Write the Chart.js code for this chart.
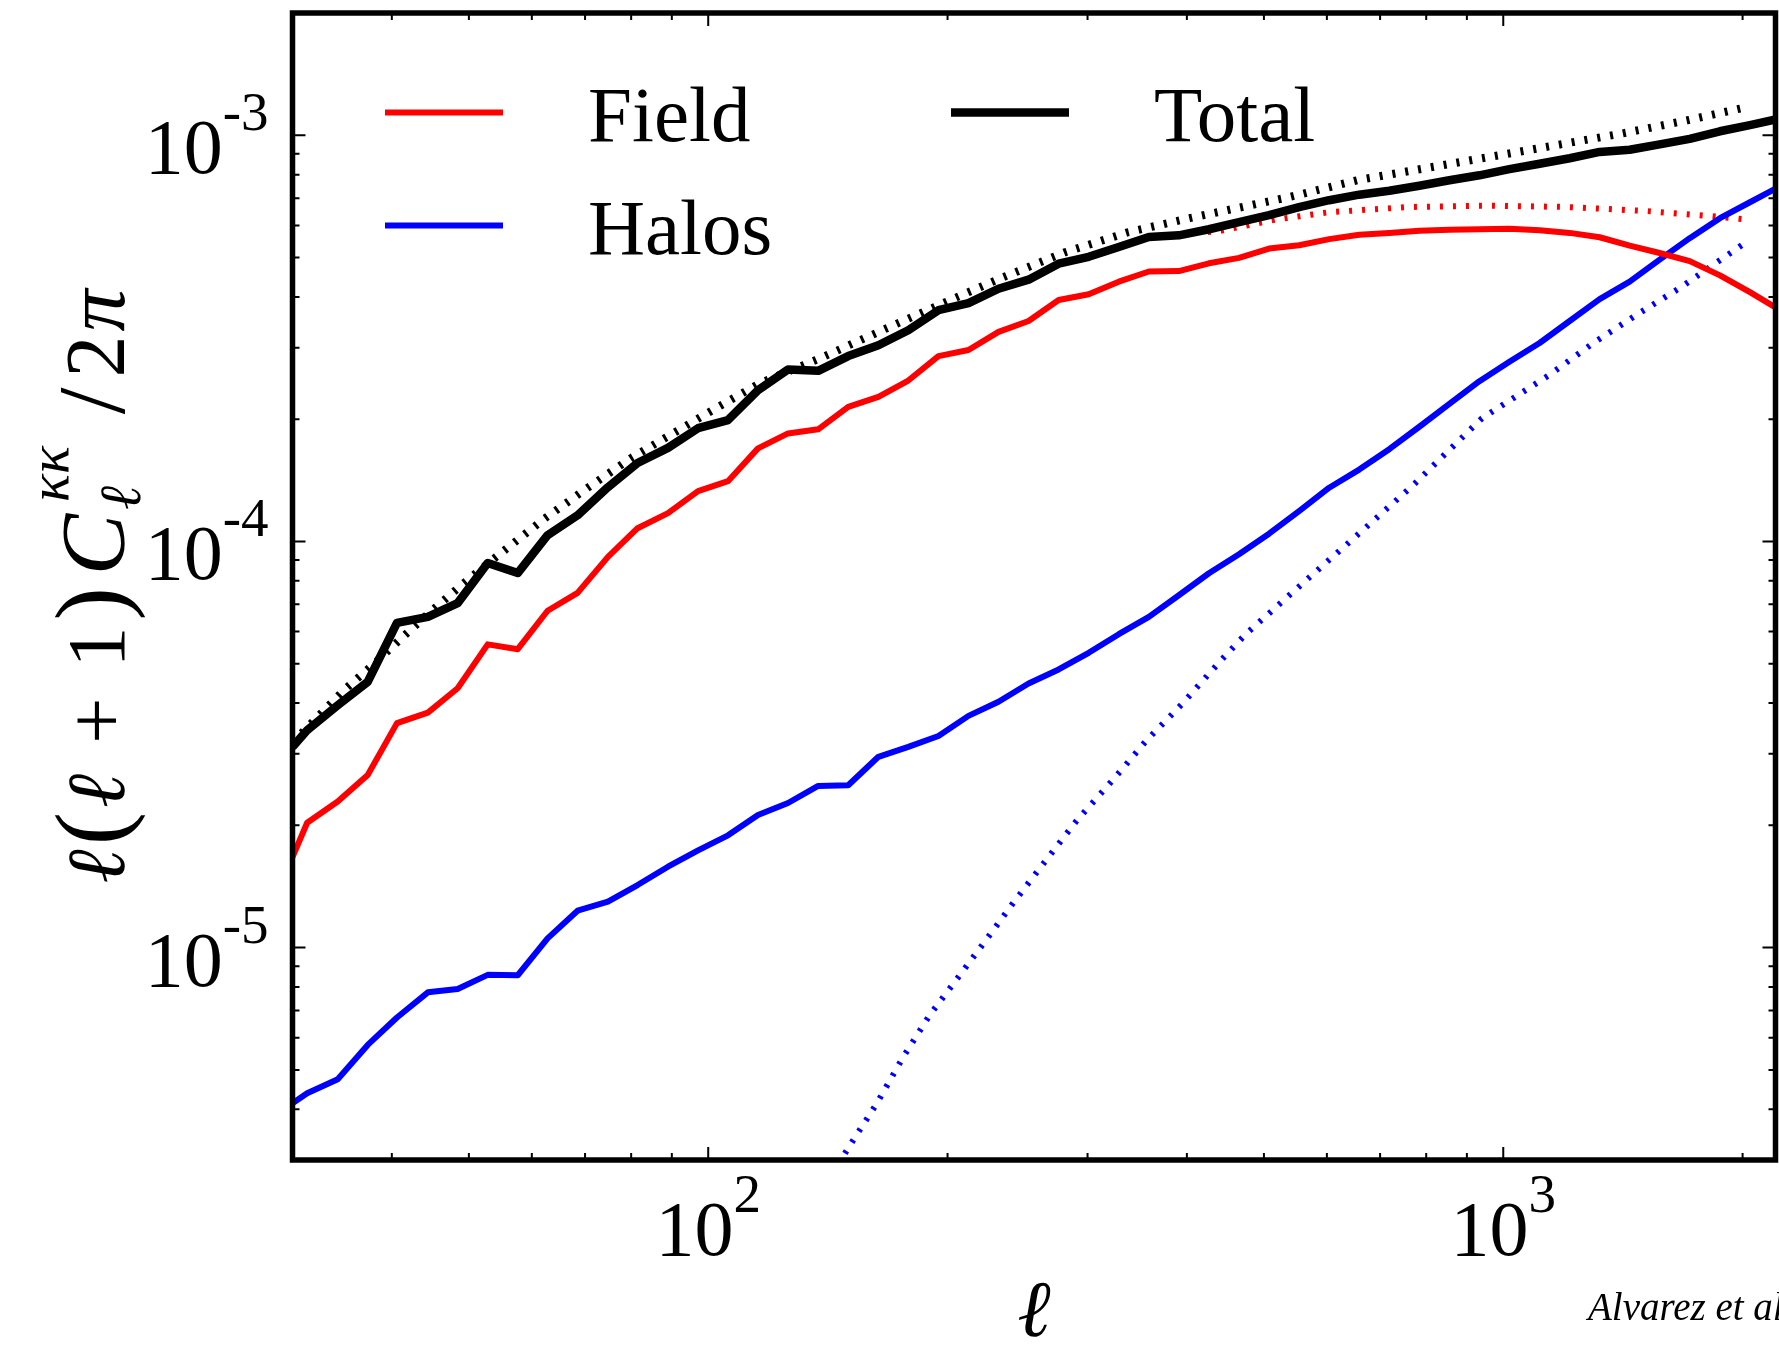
<!DOCTYPE html>
<html>
<head>
<meta charset="utf-8">
<script src="https://cdn.jsdelivr.net/npm/chart.js@4.4.0/dist/chart.umd.min.js"></script>
<style>
html, body { margin: 0; padding: 0; background: #ffffff; }
canvas { display: block; }
</style>
</head>
<body>
<canvas id="c" width="1779" height="1347"></canvas>
<script>
// ---------------- data ----------------
const ellBins = [30, 31.3, 34.2, 37.3, 40.6, 44.4, 48.4, 52.8, 57.6, 62.8, 68.5, 74.8, 81.5, 89.0, 97.1,
  105.9, 115.5, 126.0, 137.5, 150.0, 163.7, 178.5, 194.8, 212.5, 231.8, 252.9, 275.9, 301.0, 328.4,
  358.3, 390.8, 426.4, 465.2, 507.5, 553.6, 604.0, 658.9, 718.8, 784.2, 855.5, 933.3, 1018, 1111,
  1212, 1322, 1442, 1573, 1716, 1873, 2043, 2229];

const totalMeasured = [3.12e-5, 3.43e-5, 3.95e-5, 4.51e-5, 6.30e-5, 6.52e-5, 7.05e-5, 8.85e-5, 8.36e-5,
  1.036e-4, 1.16e-4, 1.36e-4, 1.56e-4, 1.70e-4, 1.90e-4, 1.99e-4, 2.357e-4, 2.65e-4, 2.63e-4, 2.86e-4,
  3.04e-4, 3.31e-4, 3.71e-4, 3.86e-4, 4.19e-4, 4.41e-4, 4.83e-4, 5.02e-4, 5.31e-4, 5.62e-4, 5.67e-4,
  5.87e-4, 6.11e-4, 6.36e-4, 6.65e-4, 6.92e-4, 7.14e-4, 7.30e-4, 7.51e-4, 7.75e-4, 7.97e-4, 8.25e-4,
  8.51e-4, 8.78e-4, 9.10e-4, 9.21e-4, 9.50e-4, 9.80e-4, 1.023e-3, 1.059e-3, 1.10e-3];

const fieldMeasured = [1.67e-5, 2.03e-5, 2.29e-5, 2.66e-5, 3.57e-5, 3.79e-5, 4.35e-5, 5.58e-5, 5.43e-5,
  6.75e-5, 7.47e-5, 9.16e-5, 1.078e-4, 1.174e-4, 1.33e-4, 1.407e-4, 1.695e-4, 1.845e-4, 1.888e-4,
  2.145e-4, 2.27e-4, 2.49e-4, 2.86e-4, 2.96e-4, 3.28e-4, 3.49e-4, 3.93e-4, 4.06e-4, 4.36e-4, 4.62e-4,
  4.63e-4, 4.84e-4, 4.99e-4, 5.26e-4, 5.36e-4, 5.55e-4, 5.69e-4, 5.75e-4, 5.82e-4, 5.85e-4, 5.87e-4,
  5.89e-4, 5.84e-4, 5.75e-4, 5.61e-4, 5.35e-4, 5.13e-4, 4.90e-4, 4.52e-4, 4.11e-4, 3.71e-4];

const halosMeasured = [4.14e-6, 4.38e-6, 4.74e-6, 5.76e-6, 6.73e-6, 7.76e-6, 7.91e-6, 8.57e-6, 8.55e-6,
  1.054e-5, 1.233e-5, 1.298e-5, 1.426e-5, 1.582e-5, 1.735e-5, 1.89e-5, 2.12e-5, 2.27e-5, 2.50e-5,
  2.51e-5, 2.95e-5, 3.12e-5, 3.32e-5, 3.72e-5, 4.03e-5, 4.47e-5, 4.84e-5, 5.32e-5, 5.91e-5, 6.52e-5,
  7.37e-5, 8.35e-5, 9.30e-5, 1.045e-4, 1.188e-4, 1.356e-4, 1.503e-4, 1.687e-4, 1.916e-4, 2.18e-4,
  2.48e-4, 2.77e-4, 3.08e-4, 3.49e-4, 3.95e-4, 4.36e-4, 4.94e-4, 5.58e-4, 6.25e-4, 6.84e-4, 7.49e-4];

const ellTheoryTotal = [30, 34.8, 37.8, 41.4, 44.9, 49.1, 53.3, 62.3, 70.7, 80.2, 88.8, 101.5, 116, 138,
  165.5, 197.4, 234.8, 280.9, 337.2, 403, 539, 655, 794, 960, 1164, 1407, 1705, 2000];
const totalTheory = [3.2e-5, 4.3e-5, 4.95e-5, 5.85e-5, 6.75e-5, 7.85e-5, 8.95e-5, 1.14e-4, 1.36e-4,
  1.61e-4, 1.81e-4, 2.11e-4, 2.45e-4, 2.82e-4, 3.31e-4, 3.86e-4, 4.47e-4, 5.15e-4, 5.77e-4, 6.25e-4,
  7.05e-4, 7.75e-4, 8.28e-4, 8.84e-4, 9.45e-4, 1.009e-3, 1.089e-3, 1.167e-3];

const ellTheoryField = [425, 443, 517, 606, 763, 960, 1200, 1512, 1832, 2000];
const fieldTheory = [5.78e-4, 5.83e-4, 6.20e-4, 6.47e-4, 6.66e-4, 6.71e-4, 6.66e-4, 6.51e-4, 6.32e-4, 6.22e-4];

const ellTheoryHalos = [140, 150, 163, 176, 190, 205, 222, 242, 264, 291, 323, 356, 395, 440, 475, 560,
  660, 770, 940, 1143, 1295, 1470, 1665, 2000];
const halosTheory = [2.58e-6, 3.21e-6, 4.14e-6, 5.39e-6, 6.83e-6, 8.32e-6, 1.025e-5, 1.29e-5, 1.61e-5,
  2.06e-5, 2.59e-5, 3.24e-5, 3.99e-5, 5.06e-5, 5.93e-5, 7.9e-5, 1.05e-4, 1.375e-4, 2.01e-4, 2.57e-4,
  3.07e-4, 3.61e-4, 4.2e-4, 5.38e-4];

const xMajorTicks = [100, 1000];
const xMinorTicks = [40, 50, 60, 70, 80, 90, 200, 300, 400, 500, 600, 700, 800, 900, 2000];
const yMajorTicks = [1e-5, 1e-4, 1e-3];
const yMinorTicks = [4e-6, 5e-6, 6e-6, 7e-6, 8e-6, 9e-6,
  2e-5, 3e-5, 4e-5, 5e-5, 6e-5, 7e-5, 8e-5, 9e-5,
  2e-4, 3e-4, 4e-4, 5e-4, 6e-4, 7e-4, 8e-4, 9e-4];
const xTickExponents = ['2', '3'];
const yTickExponents = ['-5', '-4', '-3'];
const tickBase = '10';
const legendLabels = ['Field', 'Halos', 'Total'];
const xTitle = 'ℓ';
const creditText = 'Alvarez et al.';

// ---------------- helpers ----------------
const SERIF = '"Liberation Serif", "Times New Roman", serif';
function font(size, italic) { return (italic ? 'italic ' : '') + size + 'px ' + SERIF; }
function pts(xs, ys) { return xs.map((x, i) => ({ x: x, y: ys[i] })); }

function drawYTitle(ctx, cx, cy) {
  const items = [
    { t: 'ℓ', it: 1, s: 82, gap: 0 },
    { t: '(', it: 0, s: 100, gap: 4 },
    { t: 'ℓ', it: 1, s: 82, gap: 4 },
    { t: '+', it: 0, s: 82, gap: 30 },
    { t: '1', it: 0, s: 82, gap: 30 },
    { t: ')', it: 0, s: 100, gap: 6 },
    { t: 'C', it: 1, s: 92, gap: 12 },
    { sup: 'κκ', sub: 'ℓ', s: 58, gap: 4 },
    { t: '/', it: 0, s: 96, gap: 40 },
    { t: '2', it: 0, s: 84, gap: 10 },
    { t: 'π', it: 1, s: 84, gap: 4 }
  ];
  let total = 0;
  for (const it of items) {
    ctx.font = font(it.s, it.sup ? 1 : it.it);
    it.w = it.sup ? Math.max(ctx.measureText(it.sup).width, ctx.measureText(it.sub).width)
                  : ctx.measureText(it.t).width;
    total += it.gap + it.w;
  }
  ctx.save();
  ctx.translate(cx, cy);
  ctx.rotate(-Math.PI / 2);
  ctx.textAlign = 'left';
  ctx.textBaseline = 'alphabetic';
  ctx.fillStyle = '#000';
  let x = -total / 2;
  for (const it of items) {
    x += it.gap;
    if (it.sup) {
      ctx.font = font(it.s, 1);
      ctx.fillText(it.sup, x + 8, -56);
      ctx.fillText(it.sub, x, 16);
    } else {
      ctx.font = font(it.s, it.it);
      ctx.fillText(it.t, x, 0);
    }
    x += it.w;
  }
  ctx.restore();
}

const decor = {
  id: 'decor',
  afterDraw(chart) {
    const ctx = chart.ctx;
    const a = chart.chartArea;
    const xs = chart.scales.x, ys = chart.scales.y;
    ctx.save();
    ctx.strokeStyle = '#000';
    ctx.fillStyle = '#000';

    // inward ticks on all four sides
    ctx.lineWidth = 2;
    ctx.beginPath();
    const xt = (v, len) => {
      const p = xs.getPixelForValue(v);
      ctx.moveTo(p, a.bottom); ctx.lineTo(p, a.bottom - len);
      ctx.moveTo(p, a.top); ctx.lineTo(p, a.top + len);
    };
    const yt = (v, len) => {
      const p = ys.getPixelForValue(v);
      ctx.moveTo(a.left, p); ctx.lineTo(a.left + len, p);
      ctx.moveTo(a.right, p); ctx.lineTo(a.right - len, p);
    };
    xMajorTicks.forEach(v => xt(v, 13));
    xMinorTicks.forEach(v => xt(v, 7));
    yMajorTicks.forEach(v => yt(v, 13));
    yMinorTicks.forEach(v => yt(v, 7));
    ctx.stroke();

    // frame
    ctx.lineWidth = 5.5;
    ctx.strokeRect(a.left, a.top, a.right - a.left, a.bottom - a.top);

    // y tick labels
    ctx.textAlign = 'left';
    ctx.textBaseline = 'alphabetic';
    yMajorTicks.forEach((v, i) => {
      const p = ys.getPixelForValue(v);
      ctx.font = font(55, 0);
      const wE = ctx.measureText(yTickExponents[i]).width;
      ctx.font = font(78, 0);
      const wB = ctx.measureText(tickBase).width;
      const right = a.left - 24;
      ctx.fillText(tickBase, right - wE - wB, p + 38);
      ctx.font = font(55, 0);
      ctx.fillText(yTickExponents[i], right - wE, p - 5);
    });

    // x tick labels
    xMajorTicks.forEach((v, i) => {
      const p = xs.getPixelForValue(v);
      ctx.font = font(55, 0);
      const wE = ctx.measureText(xTickExponents[i]).width;
      ctx.font = font(78, 0);
      const wB = ctx.measureText(tickBase).width;
      const start = p - (wB + wE) / 2;
      ctx.fillText(tickBase, start, a.bottom + 95);
      ctx.font = font(55, 0);
      ctx.fillText(xTickExponents[i], start + wB, a.bottom + 52);
    });

    // x axis title
    ctx.font = font(80, 1);
    ctx.textAlign = 'center';
    ctx.fillText(xTitle, (a.left + a.right) / 2, 1336);

    // y axis title
    drawYTitle(ctx, 124, (a.top + a.bottom) / 2);

    // legend
    ctx.textAlign = 'left';
    ctx.lineCap = 'butt';
    const leg = [
      { label: legendLabels[0], color: '#ff0000', w: 6, x: 385, y: 112.5 },
      { label: legendLabels[1], color: '#0000ff', w: 6, x: 385, y: 225.5 },
      { label: legendLabels[2], color: '#000000', w: 8.5, x: 951, y: 112.5 }
    ];
    leg.forEach(l => {
      ctx.strokeStyle = l.color;
      ctx.lineWidth = l.w;
      ctx.beginPath();
      ctx.moveTo(l.x, l.y); ctx.lineTo(l.x + 118, l.y);
      ctx.stroke();
      ctx.fillStyle = '#000';
      ctx.font = font(79, 0);
      ctx.fillText(l.label, l.x + 203, l.y + 28);
    });

    // credit
    ctx.font = font(39, 1);
    ctx.fillText(creditText, 1588, 1320);
    ctx.restore();
  }
};

const common = { showLine: true, pointRadius: 0, pointHoverRadius: 0, clip: 0,
  borderJoinStyle: 'round', tension: 0, fill: false };

new Chart(document.getElementById('c'), {
  type: 'scatter',
  data: {
    datasets: [
      Object.assign({ label: 'Total', data: pts(ellBins, totalMeasured), borderColor: '#000000',
        borderWidth: 8.5, order: 1 }, common),
      Object.assign({ label: 'Field', data: pts(ellBins, fieldMeasured), borderColor: '#ff0000',
        borderWidth: 6, order: 2 }, common),
      Object.assign({ label: 'Halos', data: pts(ellBins, halosMeasured), borderColor: '#0000ff',
        borderWidth: 6, order: 3 }, common),
      Object.assign({ label: 'Total (theory)', data: pts(ellTheoryTotal, totalTheory), borderColor: '#000000',
        borderWidth: 8, borderDash: [3, 10], order: 4 }, common),
      Object.assign({ label: 'Field (theory)', data: pts(ellTheoryField, fieldTheory), borderColor: '#ff0000',
        borderWidth: 6, borderDash: [3, 10], order: 5 }, common),
      Object.assign({ label: 'Halos (theory)', data: pts(ellTheoryHalos, halosTheory), borderColor: '#0000ff',
        borderWidth: 6, borderDash: [3, 10], order: 6 }, common)
    ]
  },
  options: {
    responsive: false,
    animation: false,
    devicePixelRatio: 1,
    layout: { padding: { left: 292.5, right: 3.5, top: 13, bottom: 187 } },
    plugins: { legend: { display: false }, tooltip: { enabled: false } },
    scales: {
      x: { type: 'logarithmic', min: 30, max: 2200, display: false },
      y: { type: 'logarithmic', min: 3e-6, max: 2e-3, display: false }
    }
  },
  plugins: [decor]
});
</script>
</body>
</html>
